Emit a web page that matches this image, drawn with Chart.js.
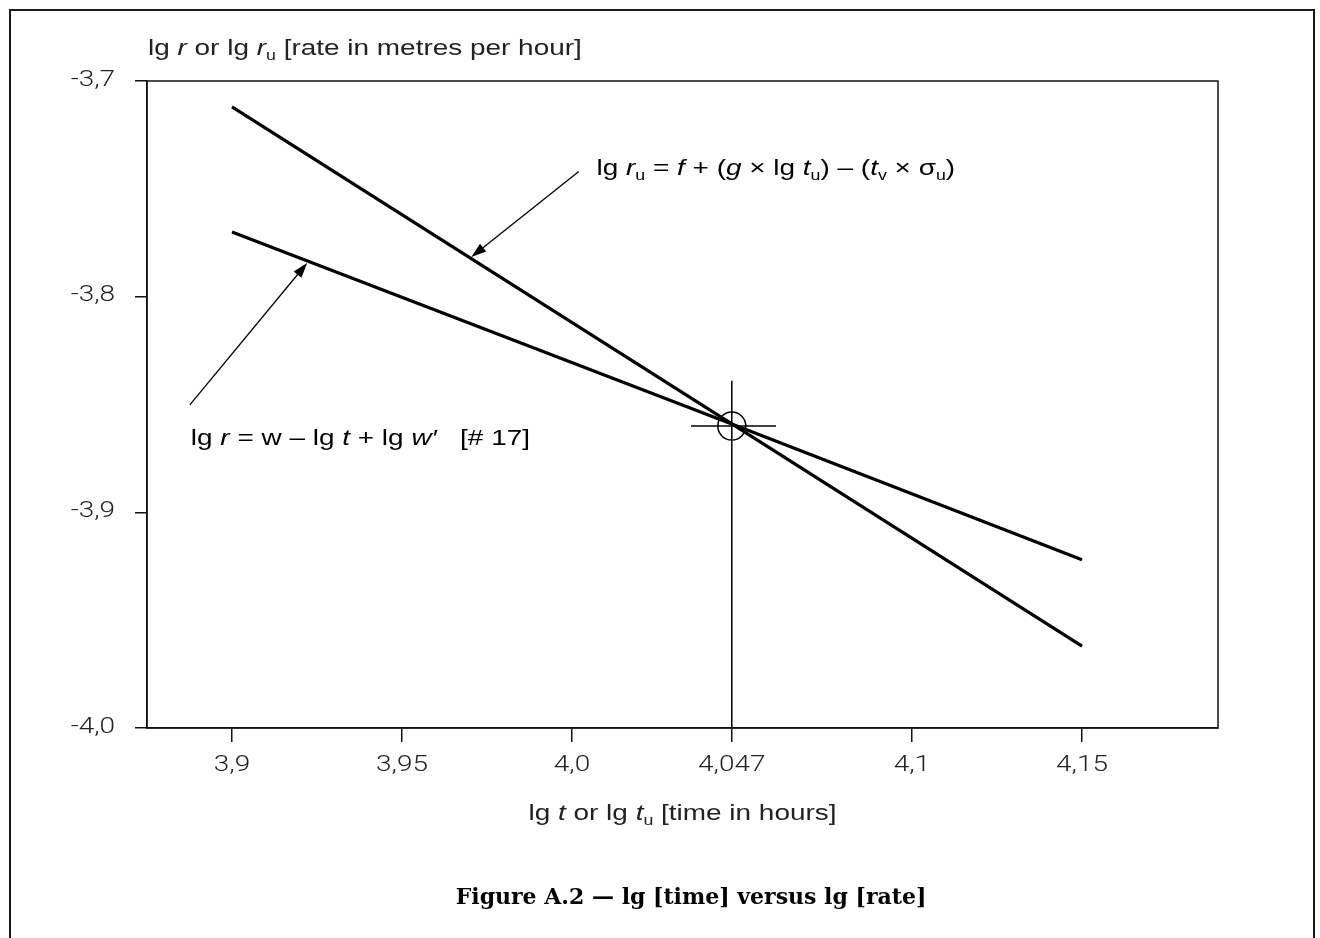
<!DOCTYPE html>
<html>
<head>
<meta charset="utf-8">
<script src="https://cdn.jsdelivr.net/npm/chart.js@4"></script>
<style>
  body { margin: 0; background: #fff; }
  #wrap { position: relative; width: 1320px; height: 938px; overflow: hidden; }
  #frame { position: absolute; left: 9px; top: 9px; width: 1302px; height: 960px;
           border: 2px solid #1a1a1a; border-bottom: none; }
  canvas { position: absolute; left: 0; top: 0; }
</style>
</head>
<body>
<div id="wrap">
  <div id="frame"></div>
  <canvas id="rateChart"></canvas>
</div>
<script>
// axis ticks
const xTicks = [3.9, 3.95, 4.0, 4.047, 4.1, 4.15];
const xTickLabels = ['3,9', '3,95', '4,0', '4,047', '4,1', '4,15'];
const yTicks = [-4.0, -3.9, -3.8, -3.7];
const yTickLabels = ['-4,0', '-3,9', '-3,8', '-3,7'];

// the two lines (lg t vs lg r)
const lgT = [3.9, 4.047, 4.15];
const lgRu = [-3.712, -3.859, -3.962];
const lgR = [-3.770, -3.859, -3.922];

// crosshair at the intersection
const crossX = 4.047;
const crossY = -3.860;
const crossVert = [-3.839, -4.0];
const crossHorz = [4.035, 4.060];

// arrows: [from, to]
const arrowRu = [[4.002, -3.742], [3.9704, -3.7816]];
const arrowR = [[3.8876, -3.8502], [3.9221, -3.7844]];

const SANS = '"Liberation Sans", Arial, sans-serif';
const LIGHT = '300 22px Roboto, "Liberation Sans", sans-serif';
const STRETCH = 1.27;   // the scanned figure is wider than it is tall

function pts(xs, ys) {
    return xs.map((x, i) => ({ x: x, y: ys[i] }));
}

// one line of text made of parts {t, i (italic), sub}, stretched sideways
function drawRich(ctx, parts, x, y, size, color, align, weight) {
    const w = weight || 'normal';
    const fontFor = p => (p.i ? 'italic ' : '') + w + ' ' + (p.sub ? Math.round(size * 0.62) : size) + 'px ' + SANS;
    let total = 0;
    parts.forEach(p => { ctx.font = fontFor(p); total += ctx.measureText(p.t).width; });
    ctx.save();
    ctx.translate(align === 'center' ? x - total * STRETCH / 2 : x, y);
    ctx.scale(STRETCH, 1);
    ctx.fillStyle = color;
    ctx.textAlign = 'left';
    ctx.textBaseline = 'alphabetic';
    let cx = 0;
    parts.forEach(p => {
        ctx.font = fontFor(p);
        ctx.fillText(p.t, cx, p.sub ? size * 0.22 : 0);
        cx += ctx.measureText(p.t).width;
    });
    ctx.restore();
}

function drawLabel(ctx, text, x, y, align) {
    ctx.save();
    ctx.translate(x, y);
    ctx.scale(STRETCH, 1);
    ctx.font = LIGHT;
    ctx.fillStyle = '#222';
    ctx.textAlign = align;
    ctx.textBaseline = 'middle';
    ctx.fillText(text, 0, 0);
    ctx.restore();
}

function arrow(ctx, x1, y1, x2, y2) {
    const a = Math.atan2(y2 - y1, x2 - x1);
    const len = 15, w = 5;
    ctx.beginPath();
    ctx.moveTo(x1, y1);
    ctx.lineTo(x2 - Math.cos(a) * len * 0.8, y2 - Math.sin(a) * len * 0.8);
    ctx.stroke();
    ctx.beginPath();
    ctx.moveTo(x2, y2);
    ctx.lineTo(x2 - Math.cos(a) * len + Math.sin(a) * w, y2 - Math.sin(a) * len - Math.cos(a) * w);
    ctx.lineTo(x2 - Math.cos(a) * len - Math.sin(a) * w, y2 - Math.sin(a) * len + Math.cos(a) * w);
    ctx.closePath();
    ctx.fill();
}

const decorPlugin = {
    id: 'decor',
    afterDraw(chart) {
        const ctx = chart.ctx;
        const xs = chart.scales.x, ys = chart.scales.y;
        const area = chart.chartArea;
        ctx.save();
        // plot frame
        ctx.strokeStyle = '#111';
        ctx.lineWidth = 1.5;
        ctx.strokeRect(area.left, area.top, area.right - area.left, area.bottom - area.top);

        // tick labels, taken from the scales' own ticks
        xs.ticks.forEach(t => {
            drawLabel(ctx, xTickLabels[xTicks.indexOf(t.value)], xs.getPixelForValue(t.value), area.bottom + 37, 'center');
        });
        ys.ticks.forEach(t => {
            drawLabel(ctx, yTickLabels[yTicks.indexOf(t.value)], area.left - 32, ys.getPixelForValue(t.value) - 1, 'right');
        });

        // arrows
        ctx.strokeStyle = '#000';
        ctx.fillStyle = '#000';
        ctx.lineWidth = 1.3;
        [arrowRu, arrowR].forEach(ar => {
            arrow(ctx, xs.getPixelForValue(ar[0][0]), ys.getPixelForValue(ar[0][1]),
                       xs.getPixelForValue(ar[1][0]), ys.getPixelForValue(ar[1][1]));
        });

        // equations
        drawRich(ctx, [
            { t: 'lg ' }, { t: 'r', i: true }, { t: 'u', sub: true }, { t: ' = ' }, { t: 'f', i: true },
            { t: ' + (' }, { t: 'g', i: true }, { t: ' \u00d7 lg ' }, { t: 't', i: true }, { t: 'u', sub: true },
            { t: ') \u2013 (' }, { t: 't', i: true }, { t: 'v', sub: true }, { t: ' \u00d7 \u03c3' }, { t: 'u', sub: true }, { t: ')' }
        ], xs.getPixelForValue(4.0072), ys.getPixelForValue(-3.7399) + 8, 22, '#000', 'left');
        drawRich(ctx, [
            { t: 'lg ' }, { t: 'r', i: true }, { t: ' = w \u2013 lg ' }, { t: 't', i: true },
            { t: ' + lg ' }, { t: 'w\u2032', i: true }, { t: '   [# 17]' }
        ], xs.getPixelForValue(3.8879), ys.getPixelForValue(-3.865) + 8, 22, '#000', 'left');

        // axis titles
        drawRich(ctx, [
            { t: 'lg ' }, { t: 'r', i: true }, { t: ' or lg ' }, { t: 'r', i: true }, { t: 'u', sub: true },
            { t: ' [rate in metres per hour]' }
        ], area.left + 1, 55, 22, '#222', 'left', '300');
        drawRich(ctx, [
            { t: 'lg ' }, { t: 't', i: true }, { t: ' or lg ' }, { t: 't', i: true }, { t: 'u', sub: true },
            { t: ' [time in hours]' }
        ], (area.left + area.right) / 2, 820, 22, '#222', 'center', '300');

        // caption
        ctx.font = 'bold 22px "DejaVu Serif", "Liberation Serif", serif';
        ctx.fillStyle = '#000';
        ctx.textAlign = 'center';
        ctx.textBaseline = 'middle';
        ctx.fillText('Figure A.2 \u2014 lg [time] versus lg [rate]', 691, 898);
        ctx.restore();
    }
};

const ctx = document.getElementById('rateChart').getContext('2d');
const rateChart = new Chart(ctx, {
    type: 'scatter',
    data: {
        datasets: [{
            label: 'lg r_u',
            data: pts(lgT, lgRu),
            showLine: true,
            borderColor: '#000',
            borderWidth: 3.2,
            pointRadius: 0
        }, {
            label: 'lg r',
            data: pts(lgT, lgR),
            showLine: true,
            borderColor: '#000',
            borderWidth: 3.2,
            pointRadius: 0
        }, {
            label: 'vertical',
            data: pts([crossX, crossX], crossVert),
            showLine: true,
            borderColor: '#000',
            borderWidth: 1.5,
            pointRadius: 0
        }, {
            label: 'horizontal',
            data: pts(crossHorz, [crossY, crossY]),
            showLine: true,
            borderColor: '#000',
            borderWidth: 1.5,
            pointRadius: 0
        }, {
            label: 'circle',
            data: [{ x: crossX, y: crossY }],
            pointRadius: 14,
            pointBorderWidth: 1.5,
            pointBorderColor: '#000',
            pointBackgroundColor: 'rgba(0,0,0,0)'
        }]
    },
    options: {
        responsive: true,
        maintainAspectRatio: false,
        animation: false,
        layout: {
            padding: { left: 0, right: 102, top: 81, bottom: 150 }
        },
        plugins: {
            legend: { display: false },
            tooltip: { enabled: false }
        },
        scales: {
            x: {
                type: 'linear',
                min: 3.875,
                max: 4.19,
                afterBuildTicks: axis => { axis.ticks = xTicks.map(v => ({ value: v })); },
                afterFit: axis => { axis.height = 60; },
                ticks: {
                    // labels are drawn stretched by the decor plugin
                    color: 'rgba(0,0,0,0)',
                    font: { family: SANS, size: 22 },
                    padding: 8,
                    maxRotation: 0
                },
                grid: { drawOnChartArea: false, drawTicks: true, tickLength: 14, color: '#111', lineWidth: 1.5 },
                border: { display: true, color: '#111', width: 1.5 }
            },
            y: {
                type: 'linear',
                min: -4.0,
                max: -3.7,
                afterBuildTicks: axis => { axis.ticks = yTicks.map(v => ({ value: v })); },
                afterFit: axis => { axis.width = 147; },
                ticks: {
                    color: 'rgba(0,0,0,0)',
                    font: { family: SANS, size: 22 },
                    padding: 16
                },
                grid: { drawOnChartArea: false, drawTicks: true, tickLength: 12, color: '#111', lineWidth: 1.5 },
                border: { display: true, color: '#111', width: 1.5 }
            }
        }
    },
    plugins: [decorPlugin]
});
</script>
</body>
</html>
